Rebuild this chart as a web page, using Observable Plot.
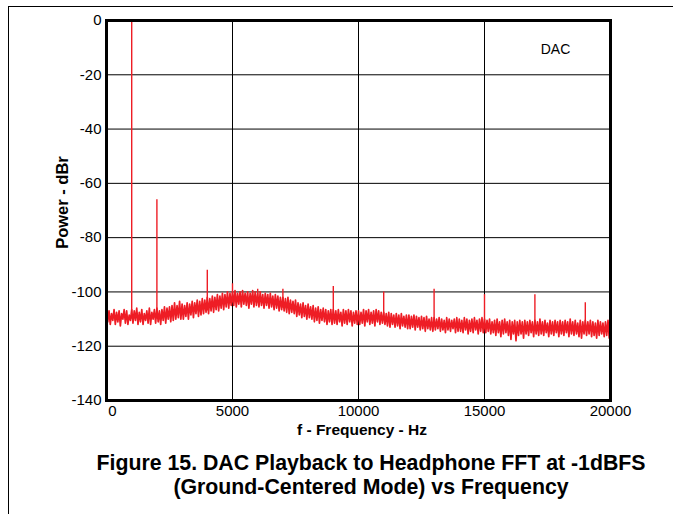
<!DOCTYPE html>
<html><head><meta charset="utf-8">
<script src="https://cdn.jsdelivr.net/npm/d3@7"></script>
<script src="https://cdn.jsdelivr.net/npm/@observablehq/plot@0.6"></script>
<style>
body{margin:0;background:#fff;font-family:"Liberation Sans",Arial,sans-serif;}
#page{position:relative;width:673px;height:514px;overflow:hidden;}
#border{position:absolute;left:8px;top:6px;width:665px;height:508px;border-left:1px solid #000;border-top:1px solid #000;}
#chart{position:absolute;left:0;top:0;}
#xtitle{position:absolute;left:262px;width:200px;top:421px;text-align:center;font-weight:bold;font-size:15.5px;}
#ytitle{position:absolute;left:-38px;width:200px;top:193px;text-align:center;font-weight:bold;font-size:16.5px;transform:rotate(-90deg);}
#caption{position:absolute;left:21px;width:700px;top:451px;text-align:center;font-weight:bold;font-size:21.3px;line-height:24px;}
</style>
</head><body>
<div id="page">
<div id="border"></div>
<div id="chart"></div>
<div id="xtitle">f - Frequency - Hz</div>
<div id="ytitle">Power - dBr</div>
<div id="caption">Figure 15. DAC Playback to Headphone FFT at -1dBFS<br>(Ground-Centered Mode) vs Frequency</div>
</div>
<script>
const freqStep = 50;
const noiseDb = [
-106,-111,-107,-112,-108,-110.5,-106.5,-112,-107.5,-111,-107,-112.5,-108,-110,-106.5,-111.5,-107,-112,-108.5,-110.5,
-106.5,-111.5,-107,-110.5,-106,-112,-107.5,-111,-106.5,-112,-108,-110.5,-107,-111.5,-106,-112,-107.5,-110,-106.5,-111.5,
-106,-111,-107,-112,-106.5,-110.5,-105.5,-111.5,-106,-110,-105.5,-111,-105,-110.5,-104,-110,-105,-109.5,-103.5,-110,
-104.5,-110,-105,-109,-104,-110,-104.5,-108.5,-103.5,-109.5,-104,-108,-103,-109,-103.5,-108.5,-102.5,-108,-103,-107.5,
-102,-108,-102.5,-107,-101.5,-107.5,-102,-106.5,-101,-107,-101.5,-106,-100.5,-106.5,-101,-105.5,-100,-106,-100.5,-105,
-100,-105,-99.5,-105.5,-100.5,-104.5,-100,-105.5,-99.5,-104.5,-100.5,-105,-100,-106,-100.5,-104.5,-99.5,-105.5,-100,-105,
-100.5,-105.5,-100,-105,-101,-106,-100.5,-105,-101,-106,-100.5,-105.5,-101.5,-106.5,-101,-106,-101.5,-107,-102,-106.5,
-102,-107,-102.5,-107.5,-102,-108,-103,-107.5,-103.5,-108,-103,-109,-104,-108.5,-104.5,-109.5,-104,-109,-105,-110,
-104.5,-109.5,-105.5,-110,-105,-111,-106,-110.5,-105.5,-111.5,-106.5,-110.5,-106,-111,-106.5,-112,-107,-111,-106.5,-112,
-106.5,-111.5,-107,-112,-106.5,-111,-107.5,-112.5,-106.5,-111.5,-107,-112,-106.5,-111,-107,-112.5,-107.5,-111.5,-107,-112,
-107,-112,-107.5,-111.5,-106.5,-112.5,-107,-111,-106.5,-112,-107.5,-111.5,-107,-112.5,-106.5,-111,-107,-112,-107.5,-111.5,
-107.5,-112,-108,-112.5,-107.5,-113,-108,-112,-108.5,-113,-108,-112.5,-108.5,-113.5,-108,-112.5,-109,-113,-108.5,-113.5,
-108.5,-113.5,-109,-113,-108.5,-114,-109,-113,-109.5,-114,-109,-113.5,-109.5,-114.5,-109,-113.5,-110,-114,-109.5,-114.5,
-109.5,-114,-110,-113.5,-109.5,-114.5,-110,-114,-110.5,-115,-109.5,-114,-110,-114.5,-110.5,-113.5,-110,-115,-109.5,-114.5,
-110,-114.5,-110.5,-115,-109.5,-114,-110,-115.5,-110.5,-114.5,-110,-115,-109.5,-114,-110.5,-115.5,-110,-114.5,-109.5,-115,
-110,-115,-110.5,-114.5,-110,-115.5,-111,-115,-110.5,-116,-110,-115,-111,-116.5,-110.5,-115.5,-110,-115,-111,-116,
-110.5,-117.5,-111,-115.5,-110.5,-118,-111,-116,-110.5,-115.5,-111,-117,-110.5,-115.5,-111,-116,-110.5,-115,-111,-116.5,
-110.5,-115.5,-111,-116,-110,-115.5,-111,-116,-110.5,-115,-111.5,-116.5,-110.5,-115.5,-111,-116,-110.5,-115,-111,-116.5,
-110.5,-115.5,-111,-116,-110.5,-115,-111,-116.5,-110,-115.5,-111,-116,-110.5,-115.5,-111.5,-116.5,-110.5,-117,-111,-115.5,
-110.5,-116,-111,-115.5,-110.5,-116.5,-111,-116,-111.5,-117,-110.5,-116,-111,-115.5,-111.5,-116.5,-111,-116,-110.5,-117,
-111
];

// Harmonic / spur spikes
const spikeFreq = [1000, 2000, 4000, 5000, 6000, 7000, 9000, 11000, 13000, 15000, 17000, 19000];
const spikeTop  = [0, -66, -92, -97, -99, -99, -98, -100, -99, -101, -101, -104];
const spikeBase = [-110, -110, -107, -104, -104, -106, -110, -110, -112, -112, -112, -113];

const xTicks = [0, 5000, 10000, 15000, 20000];
const yTicks = [0, -20, -40, -60, -80, -100, -120, -140];
const annotation = ["DAC"];

const noise = noiseDb.map((v, i) => ({f: i * freqStep, db: v}));
const spikes = spikeFreq.map((f, i) => ({f, top: spikeTop[i], base: spikeBase[i]}));
const fmt = d => String(d);

const red = "#ee1d25";
const chart = Plot.plot({
  width: 673, height: 440,
  marginLeft: 106, marginRight: 63, marginTop: 20, marginBottom: 40,
  style: {fontFamily: "'Liberation Sans', Arial, sans-serif", fontSize: "15px", color: "#000", background: "transparent"},
  x: {domain: [0, 20000]},
  y: {domain: [-140, 0]},
  marks: [
    Plot.gridX(xTicks.slice(1, -1), {stroke: "#000", strokeOpacity: 1, strokeWidth: 1}),
    Plot.gridY(yTicks.slice(1, -1), {stroke: "#000", strokeOpacity: 1, strokeWidth: 1}),
    Plot.line(noise, {x: "f", y: "db", stroke: red, strokeWidth: 1.7}),
    Plot.ruleX(spikes, {x: "f", y1: "base", y2: "top", stroke: red, strokeWidth: 1.4}),
    Plot.frame({stroke: "#000", strokeWidth: 3}),
    Plot.axisY(yTicks, {tickSize: 0, tickPadding: 5, label: null, tickFormat: fmt}),
    Plot.axisX(xTicks.slice(1), {tickSize: 0, tickPadding: 5, label: null, tickFormat: fmt}),
    Plot.axisX(xTicks.slice(0, 1), {tickSize: 0, tickPadding: 5, label: null, dx: 6, tickFormat: fmt}),
    Plot.text(annotation, {frameAnchor: "top-right", textAnchor: "middle", dx: -55, dy: 24, fontSize: 14})
  ]
});
document.getElementById("chart").appendChild(chart);
</script>
</body></html>
